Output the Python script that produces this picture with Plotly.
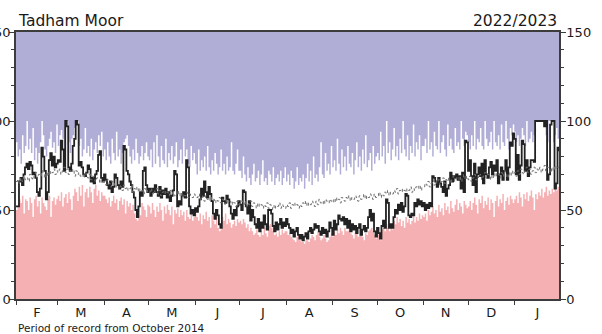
import pandas as pd
import plotly.graph_objects as go

# Daily values, 1 Feb 2022 .. 31 Jan 2023 (one row per month)
current = (
    [52, 52, 66, 68, 64, 70, 74, 76, 73, 77, 75, 70, 71, 68, 60, 58, 62, 85, 80, 72, 56, 60, 78, 82, 75, 80, 74, 76]  # Feb
    + [78, 77, 89, 84, 72, 100, 97, 74, 72, 76, 86, 90, 100, 98, 75, 77, 74, 70, 69, 71, 75, 73, 66, 68, 65, 70, 72, 81, 83, 68, 66]  # Mar
    + [70, 67, 64, 62, 66, 60, 63, 70, 68, 64, 62, 66, 63, 86, 84, 72, 70, 66, 64, 60, 57, 50, 46, 52, 60, 58, 72, 74, 64, 60]  # Apr
    + [62, 58, 62, 60, 64, 60, 58, 63, 57, 61, 59, 62, 57, 60, 55, 58, 61, 72, 70, 52, 55, 53, 58, 60, 57, 78, 74, 52, 48, 50, 47]  # May
    + [51, 49, 52, 56, 62, 58, 66, 60, 57, 63, 59, 55, 48, 45, 50, 47, 42, 40, 57, 55, 54, 58, 56, 52, 48, 45, 50, 47, 52, 55]  # Jun
    + [53, 50, 61, 60, 52, 48, 55, 44, 50, 46, 42, 40, 45, 38, 43, 40, 47, 42, 39, 50, 50, 48, 41, 38, 43, 39, 42, 45, 40, 43, 41]  # Jul
    + [45, 42, 40, 37, 39, 35, 38, 40, 36, 34, 36, 33, 35, 37, 34, 38, 40, 37, 39, 42, 40, 41, 38, 36, 40, 37, 39, 35, 38, 43, 40]  # Aug
    + [36, 44, 39, 42, 47, 45, 44, 46, 42, 45, 40, 44, 38, 42, 39, 41, 37, 40, 42, 36, 39, 41, 38, 40, 46, 50, 44, 48, 38, 35]  # Sep
    + [40, 37, 34, 41, 44, 40, 56, 54, 40, 42, 40, 46, 50, 48, 53, 50, 54, 49, 52, 59, 58, 47, 46, 48, 47, 54, 52, 56, 53, 55, 52]  # Oct
    + [54, 50, 53, 51, 54, 52, 69, 68, 66, 63, 68, 65, 63, 60, 66, 58, 62, 64, 71, 66, 69, 68, 70, 67, 69, 62, 71, 60, 89, 88]  # Nov
    + [72, 78, 69, 64, 76, 60, 70, 74, 69, 76, 65, 78, 70, 68, 74, 77, 70, 75, 72, 78, 65, 70, 74, 67, 72, 78, 67, 74, 88, 86, 93]  # Dec
    + [90, 70, 81, 67, 75, 89, 87, 72, 78, 69, 74, 78, 78, 77, 100, 100, 100, 100, 100, 100, 97, 100, 67, 70, 98, 100, 100, 62, 65, 85, 83]  # Jan
)

record_max = (
    [88, 80, 84, 76, 92, 82, 86, 100, 84, 90, 82, 96, 78, 85, 76, 82, 88, 100, 92, 84, 80, 86, 90, 94, 85, 88, 82, 98]
    + [86, 92, 95, 90, 84, 100, 100, 88, 82, 90, 92, 96, 100, 100, 86, 90, 80, 84, 96, 82, 86, 80, 90, 78, 84, 88, 82, 92, 86, 94, 80]
    + [84, 78, 88, 80, 76, 90, 82, 78, 94, 80, 84, 76, 82, 88, 90, 92, 86, 80, 76, 84, 78, 90, 82, 76, 80, 86, 78, 82, 88, 80]
    + [78, 84, 74, 88, 76, 92, 80, 74, 86, 78, 76, 90, 74, 82, 78, 86, 76, 80, 88, 74, 78, 84, 76, 90, 80, 84, 76, 74, 86, 78, 82]
    + [76, 70, 84, 72, 78, 74, 80, 72, 86, 74, 70, 78, 72, 82, 76, 70, 74, 84, 72, 76, 70, 80, 72, 74, 88, 72, 70, 76, 84, 72]
    + [72, 68, 80, 70, 66, 74, 68, 64, 70, 76, 66, 68, 72, 64, 70, 78, 66, 68, 64, 72, 70, 66, 74, 64, 68, 70, 66, 72, 64, 68, 74]
    + [66, 70, 64, 72, 68, 62, 66, 74, 64, 68, 66, 70, 62, 68, 76, 66, 72, 64, 80, 68, 70, 66, 74, 88, 70, 68, 82, 72, 76, 70, 86]
    + [74, 78, 72, 90, 76, 70, 84, 74, 80, 72, 86, 76, 74, 82, 70, 78, 88, 74, 80, 72, 84, 76, 92, 74, 78, 82, 72, 86, 76, 80]
    + [82, 78, 94, 80, 86, 76, 100, 82, 88, 78, 84, 96, 80, 86, 78, 90, 82, 100, 84, 80, 92, 78, 86, 82, 98, 80, 88, 84, 92, 78, 86]
    + [86, 90, 82, 100, 84, 88, 80, 94, 86, 84, 100, 82, 88, 92, 84, 80, 98, 86, 90, 84, 82, 96, 86, 88, 84, 100, 90, 86, 94, 92]
    + [88, 84, 92, 86, 100, 84, 90, 88, 96, 86, 84, 100, 90, 86, 88, 94, 84, 100, 88, 86, 92, 84, 98, 88, 86, 100, 90, 84, 96, 92, 98]
    + [94, 88, 92, 86, 90, 96, 92, 86, 100, 88, 90, 94, 88, 92, 100, 100, 100, 100, 100, 100, 100, 92, 88, 100, 100, 100, 88, 92, 96, 90, 86]
)

record_min = (
    [50, 52, 56, 54, 58, 48, 56, 55, 50, 57, 54, 46, 56, 58, 52, 55, 48, 57, 54, 52, 50, 56, 58, 46, 55, 57, 53, 56]
    + [58, 55, 60, 52, 57, 59, 54, 60, 56, 50, 58, 62, 60, 55, 63, 58, 64, 52, 60, 62, 57, 63, 60, 54, 62, 64, 58, 61, 55, 60, 58]
    + [58, 56, 54, 57, 52, 55, 58, 54, 56, 50, 55, 57, 53, 56, 48, 55, 52, 54, 50, 53, 48, 45, 44, 52, 47, 54, 52, 50, 46, 53]
    + [52, 48, 54, 50, 46, 52, 49, 54, 50, 44, 52, 48, 53, 50, 47, 52, 42, 50, 48, 51, 46, 50, 47, 49, 44, 50, 46, 45, 48, 44, 46]
    + [48, 46, 44, 48, 42, 47, 45, 49, 44, 46, 40, 47, 44, 42, 46, 40, 38, 39, 46, 44, 48, 42, 45, 43, 40, 42, 44, 41, 45, 43]
    + [44, 42, 45, 43, 40, 42, 38, 40, 38, 36, 37, 39, 36, 35, 38, 36, 40, 37, 35, 41, 42, 40, 38, 36, 37, 35, 38, 36, 39, 37, 38]
    + [38, 36, 37, 35, 34, 33, 32, 35, 36, 33, 32, 32, 31, 33, 33, 32, 34, 36, 35, 33, 36, 38, 35, 33, 34, 36, 34, 32, 33, 35, 37]
    + [35, 38, 36, 39, 37, 40, 38, 36, 40, 38, 38, 39, 37, 36, 34, 38, 37, 35, 39, 36, 35, 33, 37, 36, 38, 39, 40, 38, 36, 34]
    + [38, 36, 33, 39, 40, 38, 42, 40, 38, 41, 39, 44, 42, 46, 43, 45, 41, 44, 40, 46, 43, 45, 42, 44, 47, 43, 46, 44, 48, 45, 47]
    + [46, 48, 44, 50, 47, 49, 52, 48, 50, 46, 53, 49, 51, 47, 54, 50, 52, 48, 55, 51, 49, 53, 56, 50, 54, 52, 48, 55, 53, 51]
    + [52, 55, 50, 54, 57, 53, 48, 56, 54, 58, 51, 55, 53, 57, 50, 56, 54, 46, 55, 58, 52, 56, 54, 59, 50, 55, 57, 53, 58, 56, 54]
    + [56, 58, 54, 60, 57, 52, 59, 56, 60, 55, 58, 61, 57, 50, 59, 56, 60, 58, 62, 57, 60, 63, 58, 61, 59, 62, 60, 64, 61, 63, 60]
)

record_mean = (
    [66, 67, 65, 68, 66, 69, 67, 68, 66, 70, 68, 67, 69, 71, 68, 70, 69, 72, 70, 68, 71, 69, 72, 70, 71, 73, 70, 72]
    + [71, 73, 70, 72, 74, 71, 73, 70, 72, 71, 73, 69, 72, 70, 71, 69, 70, 68, 71, 69, 68, 70, 67, 69, 68, 66, 68, 67, 65, 67, 66]
    + [66, 64, 67, 65, 63, 66, 64, 65, 63, 62, 64, 63, 61, 64, 62, 63, 61, 62, 64, 60, 62, 61, 63, 60, 62, 61, 59, 62, 60, 61]
    + [60, 62, 59, 61, 60, 62, 59, 61, 58, 60, 61, 59, 60, 58, 61, 59, 60, 58, 59, 61, 58, 60, 57, 59, 58, 60, 57, 59, 58, 57, 59]
    + [58, 57, 59, 56, 58, 57, 55, 58, 56, 57, 55, 57, 56, 54, 56, 55, 57, 54, 56, 55, 53, 56, 54, 55, 53, 55, 54, 52, 55, 53]
    + [54, 55, 53, 55, 52, 54, 53, 55, 52, 54, 53, 51, 54, 52, 53, 51, 53, 52, 54, 51, 53, 52, 50, 53, 51, 52, 54, 51, 53, 52, 51]
    + [53, 52, 54, 51, 53, 52, 54, 53, 51, 53, 52, 54, 53, 55, 52, 54, 53, 55, 54, 52, 55, 53, 56, 54, 55, 53, 56, 55, 54, 56, 55]
    + [56, 54, 57, 55, 56, 54, 57, 56, 55, 57, 56, 58, 55, 57, 56, 58, 57, 55, 58, 56, 57, 59, 56, 58, 57, 59, 58, 56, 59, 57]
    + [58, 60, 57, 59, 58, 60, 59, 61, 58, 60, 59, 61, 60, 62, 59, 61, 60, 62, 61, 60, 62, 61, 63, 60, 62, 61, 63, 62, 64, 61, 63]
    + [63, 65, 64, 66, 63, 65, 67, 64, 66, 65, 67, 64, 66, 68, 65, 67, 66, 68, 65, 67, 69, 66, 68, 67, 69, 66, 68, 70, 67, 69]
    + [67, 69, 66, 68, 70, 67, 69, 68, 70, 67, 69, 71, 68, 70, 69, 67, 70, 68, 71, 69, 70, 68, 71, 69, 72, 70, 68, 71, 69, 72, 70]
    + [71, 69, 72, 70, 73, 71, 70, 72, 74, 71, 73, 70, 72, 74, 71, 73, 72, 74, 71, 73, 75, 72, 74, 73, 71, 74, 72, 75, 73, 74, 72]
)

month_letters = ["F", "M", "A", "M", "J", "J", "A", "S", "O", "N", "D", "J"]
y_ticks = [0, 50, 100, 150]

FONT = "DejaVu Sans"
LAVENDER = "#b0aed6"
PINK = "#f5b0b3"
FRAME = "#3c3c3c"


def dates_for(series):
    return pd.date_range("2022-02-01", periods=len(series), freq="D")


month_starts = pd.date_range("2022-02-01", "2023-01-01", freq="MS")
month_mids = month_starts + pd.to_timedelta(month_starts.days_in_month / 2, unit="D")
x_range = ["2022-02-01", "2023-01-31"]

fig = go.Figure()

# white band: everything up to the record maximum
fig.add_trace(go.Scatter(
    x=dates_for(record_max), y=record_max, mode="lines", line=dict(width=0, shape="hv"),
    fill="tozeroy", fillcolor="#ffffff", hoverinfo="skip", showlegend=False,
))
# pink band: everything up to the record minimum
fig.add_trace(go.Scatter(
    x=dates_for(record_min), y=record_min, mode="lines", line=dict(width=0, shape="hv"),
    fill="tozeroy", fillcolor=PINK, hoverinfo="skip", showlegend=False,
))
# this year's daily values
fig.add_trace(go.Scatter(
    x=dates_for(current), y=current, mode="lines",
    line=dict(color="#222222", width=1.8, shape="hv"), showlegend=False,
))
# long-term daily mean, on the overlaid axes that carry the right-hand and month labels
fig.add_trace(go.Scatter(
    x=dates_for(record_mean), y=record_mean, mode="lines", xaxis="x2", yaxis="y2",
    line=dict(color="#707070", width=1, dash="3px,3px", shape="hv"), showlegend=False,
))

tick_font = dict(family=FONT, size=13, color="#1a1a1a")
y_common = dict(
    range=[0, 150], tickmode="array", tickvals=y_ticks, ticks="outside", ticklen=5,
    tickcolor=FRAME, tickwidth=1, showline=True, linecolor=FRAME, linewidth=1.5,
    showgrid=False, zeroline=False, tickfont=tick_font, fixedrange=True, automargin=False,
    minor=dict(dtick=10, ticks="outside", ticklen=3, tickcolor=FRAME, tickwidth=1, showgrid=False),
)

fig.update_layout(
    width=602, height=334,
    margin=dict(l=16, r=43, t=32, b=35),
    paper_bgcolor="#ffffff", plot_bgcolor=LAVENDER,
    font=dict(family=FONT, color="#1a1a1a"),
    xaxis=dict(
        type="date", range=x_range, tickmode="array", tickvals=month_starts,
        ticktext=[""] * len(month_starts), ticks="outside", ticklen=4, tickcolor=FRAME,
        showline=True, linecolor=FRAME, linewidth=1.5, mirror=True, showgrid=False,
        zeroline=False, automargin=False,
    ),
    xaxis2=dict(
        type="date", range=x_range, overlaying="x", side="bottom", tickmode="array",
        tickvals=month_mids, ticktext=month_letters, ticks="", ticklabelstandoff=4,
        showline=False, showgrid=False, zeroline=False,
        tickfont=tick_font, automargin=False,
    ),
    yaxis=dict(side="left", ticklabelstandoff=-4, **y_common),
    yaxis2=dict(side="right", overlaying="y", ticklabelstandoff=-2, **y_common),
    annotations=[
        dict(text="Tadham Moor", xref="paper", yref="paper", x=0, y=1, xanchor="left",
             yanchor="bottom", showarrow=False, font=dict(family=FONT, size=15.5, color="#1a1a1a")),
        dict(text="2022/2023", xref="paper", yref="paper", x=1, y=1, xanchor="right",
             yanchor="bottom", showarrow=False, font=dict(family=FONT, size=15.5, color="#1a1a1a")),
        dict(text="Period of record from October 2014", xref="paper", yref="paper", x=0, y=0,
             xanchor="left", yanchor="middle", yshift=-29, showarrow=False,
             font=dict(family=FONT, size=10.5, color="#1a1a1a")),
    ],
)

fig.write_html("out.html")
